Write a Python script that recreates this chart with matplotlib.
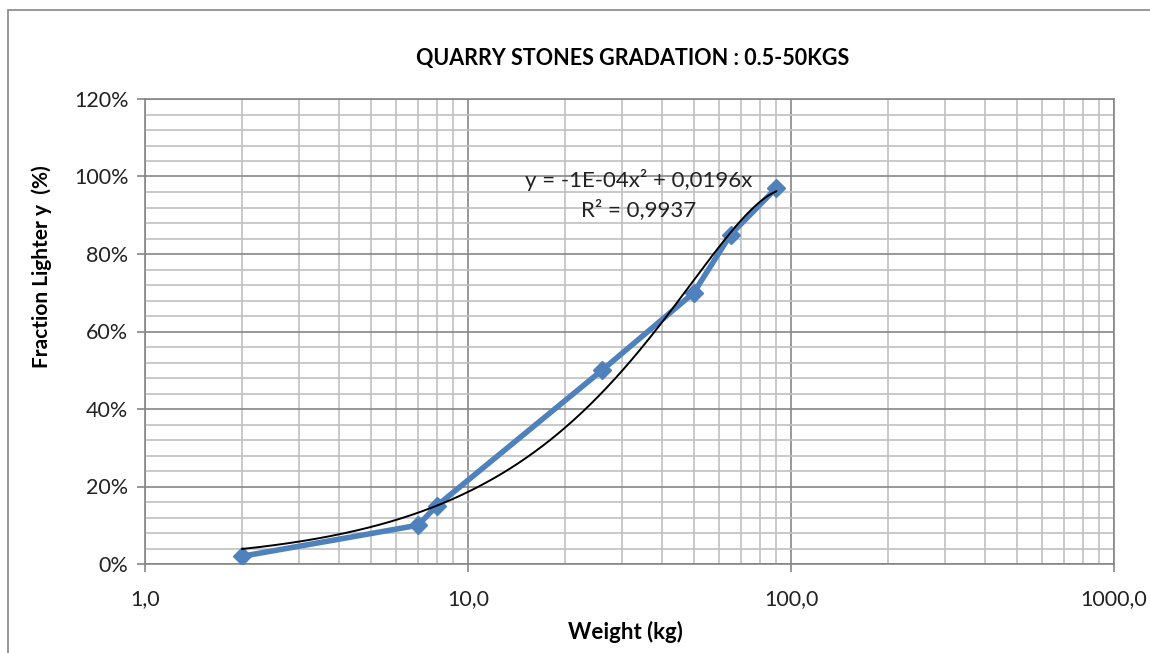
import matplotlib.pyplot as plt
import numpy as np
from matplotlib.ticker import FixedLocator, FuncFormatter, MultipleLocator
from matplotlib.patches import Rectangle

plt.rcParams['font.family'] = ['Lato', 'DejaVu Sans']

weight_kg = [2, 7, 8, 26, 50, 65, 90]
fraction_lighter = [0.02, 0.10, 0.15, 0.50, 0.70, 0.85, 0.97]
x_ticks = [1, 10, 100, 1000]
x_tick_labels = ["1,0", "10,0", "100,0", "1000,0"]

# polynomial trendline (order 2, intercept 0) as in the spreadsheet
xw = np.array(weight_kg, dtype=float)
yw = np.array(fraction_lighter)
A = np.column_stack([xw ** 2, xw])
coef, *_ = np.linalg.lstsq(A, yw, rcond=None)
xt = np.logspace(np.log10(xw.min()), np.log10(xw.max()), 200)
yt = coef[0] * xt ** 2 + coef[1] * xt

fig = plt.figure(figsize=(11.5, 6.53), dpi=100)
fig.patches.append(Rectangle((8 / 1150, -0.1), 1.2, (653 - 10) / 653 + 0.1,
                             transform=fig.transFigure, fill=False,
                             edgecolor="#868686", linewidth=1.2))
ax = fig.add_axes([145 / 1150, 1 - 564 / 653, 969 / 1150, 465 / 653])

ax.set_xscale("log")
ax.set_xlim(1, 1000)
ax.set_ylim(0, 1.2)

ax.xaxis.set_major_locator(FixedLocator(x_ticks))
ax.xaxis.set_major_formatter(FuncFormatter(lambda v, p: x_tick_labels[x_ticks.index(round(v))] if round(v) in x_ticks else ""))
ax.xaxis.set_minor_locator(FixedLocator([m * 10 ** e for e in range(3) for m in range(2, 10)]))
ax.xaxis.set_minor_formatter(FuncFormatter(lambda v, p: ""))
ax.yaxis.set_major_locator(MultipleLocator(0.2))
ax.yaxis.set_minor_locator(MultipleLocator(0.04))
ax.yaxis.set_major_formatter(FuncFormatter(lambda v, p: f"{v * 100:.0f}%"))

ax.grid(which="major", color="#868686", linewidth=1.2)
ax.grid(which="minor", color="#c0c0c0", linewidth=1.2)
ax.set_axisbelow(True)
for s in ax.spines.values():
    s.set_color("#868686")
    s.set_linewidth(1.2)
ax.tick_params(which="major", length=6, width=1.2, color="#868686",
               labelsize=15.5, labelcolor="#222222", pad=6)
ax.tick_params(axis="x", which="major", pad=12)
ax.tick_params(which="minor", length=0)

ax.plot(weight_kg, fraction_lighter, color="#4F81BD", linewidth=4,
        marker="D", markersize=9, zorder=3)
ax.plot(xt, yt, color="black", linewidth=1.4, zorder=4)

ax.text(0.509, 0.826, "y = -1E-04x² + 0,0196x", transform=ax.transAxes,
        ha="center", va="center", fontsize=16, color="#222222")
ax.text(0.509, 0.763, "R² = 0,9937", transform=ax.transAxes,
        ha="center", va="center", fontsize=16, color="#222222")

fig.text(633 / 1150, 1 - 59 / 653, "QUARRY STONES GRADATION : 0.5-50KGS",
         ha="center", va="center", fontsize=15.5, fontweight="bold")
fig.text(625 / 1150, 1 - 632 / 653, "Weight (kg)", ha="center", va="center",
         fontsize=16, fontweight="bold")
fig.text(42 / 1150, 1 - 267 / 653, "Fraction Lighter y  (%)", ha="center",
         va="center", rotation=90, fontsize=15, fontweight="bold")

fig.savefig("out.png", dpi=100)
